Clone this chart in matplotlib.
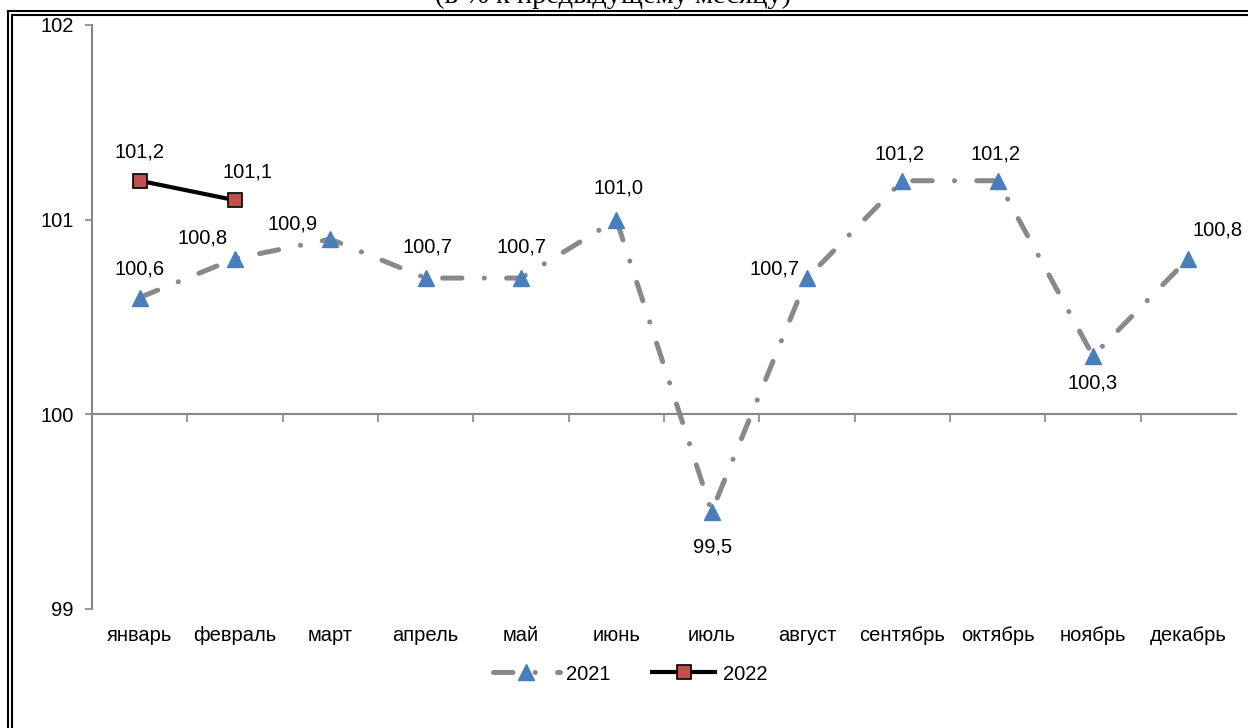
import matplotlib
matplotlib.use('Agg')
from matplotlib import pyplot as plt
from matplotlib.patches import Rectangle

plt.rcParams['font.family'] = ['Liberation Sans', 'DejaVu Sans']
plt.rcParams['lines.scale_dashes'] = False

months = ['январь', 'февраль', 'март', 'апрель', 'май', 'июнь',
          'июль', 'август', 'сентябрь', 'октябрь', 'ноябрь', 'декабрь']
values_2021 = [100.6, 100.8, 100.9, 100.7, 100.7, 101.0,
               99.5, 100.7, 101.2, 101.2, 100.3, 100.8]
values_2022 = [101.2, 101.1]
y_ticks = [99, 100, 101, 102]

# label offsets in pixels (dx, dy) relative to the marker
offsets_2021 = [(0, 29), (-32, 21), (-38, 15), (2, 31), (1, 31), (2, 32),
                (1, -35), (-32, 9), (-3, 27), (-2, 27), (0, -27), (29, 29)]
offsets_2022 = [(0, 29), (12, 28)]

gray = '#878787'
fig = plt.figure(figsize=(12.48, 7.28), dpi=100)
ax = fig.add_axes([92 / 1248, 1 - 609 / 728, 1144 / 1248, 584 / 728])

x21 = list(range(len(values_2021)))
x22 = list(range(len(values_2022)))

ax.plot(x21, values_2021, color='#898989', lw=3.6,
        linestyle=(0, (14, 16, 0.1, 16)), dash_capstyle='round',
        marker='^', ms=11, mfc='#4A7EBB', mec='#4A7EBB', label='2021', zorder=3)
ax.plot(x22, values_2022, color='black', lw=3.0, solid_capstyle='butt',
        marker='s', ms=9.5, mfc='#C0504D', mec='black', mew=1.2,
        label='2022', zorder=4)

for x, v, (dx, dy) in zip(x21, values_2021, offsets_2021):
    ax.annotate(f'{v:.1f}'.replace('.', ','), (x, v), xytext=(dx, dy),
                textcoords='offset pixels', ha='center', va='center',
                fontsize=14.5, zorder=5)
for x, v, (dx, dy) in zip(x22, values_2022, offsets_2022):
    ax.annotate(f'{v:.1f}'.replace('.', ','), (x, v), xytext=(dx, dy),
                textcoords='offset pixels', ha='center', va='center',
                fontsize=14.5, zorder=5)

ax.set_xlim(-0.5, len(months) - 0.5)
ax.set_ylim(99, 102)
ax.set_yticks(y_ticks)
ax.set_yticklabels([str(t) for t in y_ticks], fontsize=14.5)
ax.tick_params(axis='y', direction='out', length=5, width=1.2, color=gray, pad=8)

for s in ['top', 'right']:
    ax.spines[s].set_visible(False)
ax.spines['left'].set_color(gray)
ax.spines['left'].set_linewidth(1.5)
ax.spines['bottom'].set_position(('data', 100))
ax.spines['bottom'].set_color(gray)
ax.spines['bottom'].set_linewidth(1.5)
ax.set_xticks([i + 0.5 for i in range(len(months) - 1)])
ax.set_xticklabels([])
ax.tick_params(axis='x', direction='out', length=6, width=1.2, color=gray)

sec = ax.secondary_xaxis(0)
sec.set_xticks(range(len(months)))
sec.set_xticklabels(months, fontsize=14.5)
sec.tick_params(length=0, pad=12)
sec.spines['bottom'].set_visible(False)

fig.legend(loc='center', bbox_to_anchor=(0.505, 1 - 674 / 728), ncol=2,
           frameon=False, fontsize=14.5, handlelength=3.3, columnspacing=2.0,
           handletextpad=0.3)

fig.text(0.491, 1 - 3 / 728, '(в % к предыдущему месяцу)', ha='center',
         va='baseline', fontsize=20.5, family='Liberation Serif')

# double frame around the chart
for px, py in [(8, 11), (12, 15)]:
    fig.patches.append(Rectangle((px / 1248, -0.5), 2, 1.5 - py / 728,
                                 transform=fig.transFigure, fill=False,
                                 edgecolor='black', lw=1.5, clip_on=False))

fig.savefig('out.png', dpi=100)
